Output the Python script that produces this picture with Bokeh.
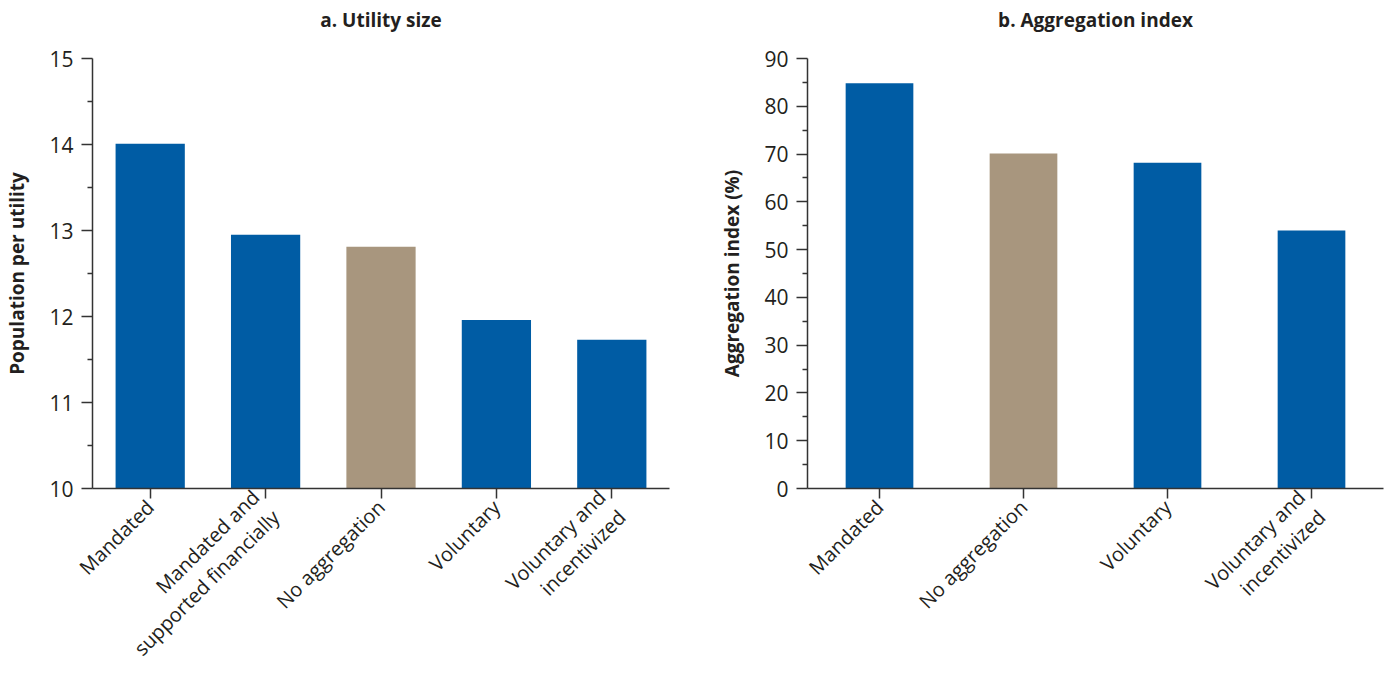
import math
from bokeh.plotting import figure
from bokeh.layouts import row
from bokeh.models import (FactorRange, Range1d, ColumnDataSource, FixedTicker,
                          LinearAxis)
from bokeh.embed import file_html
from bokeh.resources import INLINE

# ---- data ----
cats_a = ["Mandated", "Mandated and\nsupported financially", "No aggregation",
          "Voluntary", "Voluntary and\nincentivized"]
vals_a = [14.01, 12.95, 12.81, 11.96, 11.73]
cats_b = ["Mandated", "No aggregation", "Voluntary", "Voluntary and\nincentivized"]
vals_b = [84.8, 70.1, 68.2, 54.0]
ticks_a = [10, 11, 12, 13, 14, 15]
ticks_b = [0, 10, 20, 30, 40, 50, 60, 70, 80, 90]

BLUE = "#005CA4"
TAN = "#A8967E"
colors_a = [BLUE, BLUE, TAN, BLUE, BLUE]
colors_b = [BLUE, TAN, BLUE, BLUE]

FONT = "Open Sans"
TXT = "#231F20"


def make(cats, vals, colors, ticks, title, ylabel, width, bl, br, bar_w):
    p = figure(x_range=FactorRange(factors=cats, range_padding=0),
               y_range=Range1d(ticks[0], ticks[-1]),
               width=width, height=683, output_backend="svg",
               toolbar_location=None,
               min_border_left=bl, min_border_right=br,
               min_border_top=58, min_border_bottom=183)
    src = ColumnDataSource(dict(x=cats, top=vals, color=colors))
    p.vbar(x="x", top="top", bottom=ticks[0], width=bar_w, color="color",
           line_color=None, source=src)
    p.grid.visible = False
    p.outline_line_color = None

    # panel title as the label of an empty axis above the frame
    top = LinearAxis(ticker=FixedTicker(ticks=[]), axis_label=title,
                     axis_line_color=None, major_tick_line_color=None,
                     minor_tick_line_color=None,
                     axis_label_text_font=FONT, axis_label_text_font_size="19px",
                     axis_label_text_font_style="bold",
                     axis_label_text_color=TXT, axis_label_standoff=26)
    p.add_layout(top, "above")

    minor = [(a + b) / 2 for a, b in zip(ticks[:-1], ticks[1:])]
    ya = p.yaxis[0]
    ya.ticker = FixedTicker(ticks=ticks, minor_ticks=minor)
    ya.axis_label = ylabel
    ya.axis_label_text_font = FONT
    ya.axis_label_text_font_size = "19px"
    ya.axis_label_text_font_style = "bold"
    ya.axis_label_text_color = TXT
    ya.axis_label_standoff = 16
    ya.major_label_text_font = FONT
    ya.major_label_text_font_size = "21px"
    ya.major_label_text_color = TXT
    ya.major_label_standoff = 8
    ya.major_tick_out = 11
    ya.major_tick_in = 0
    ya.minor_tick_out = 5
    ya.minor_tick_in = 0

    xa = p.below[0]
    xa.major_label_orientation = math.pi / 4
    xa.major_label_text_align = "right"
    xa.major_label_text_font = FONT
    xa.major_label_text_font_size = "20px"
    xa.major_label_text_line_height = 1.05
    xa.major_label_text_color = TXT
    xa.major_label_standoff = 5
    xa.major_tick_out = 10
    xa.major_tick_in = 0

    for ax in (xa, ya):
        ax.axis_line_color = "#333333"
        ax.axis_line_width = 1.5
        ax.major_tick_line_color = "#333333"
        ax.major_tick_line_width = 1.5
        ax.minor_tick_line_color = "#333333"
        ax.minor_tick_line_width = 1.5
    return p


pa = make(cats_a, vals_a, colors_a, ticks_a, "a. Utility size",
          "Population per utility", 700, 92, 31, 0.6)
pb = make(cats_b, vals_b, colors_b, ticks_b, "b. Aggregation index",
          "Aggregation index (%)", 690, 107, 7, 0.47)

layout = row(pa, pb)
open("out.html", "w").write(file_html(layout, INLINE))
